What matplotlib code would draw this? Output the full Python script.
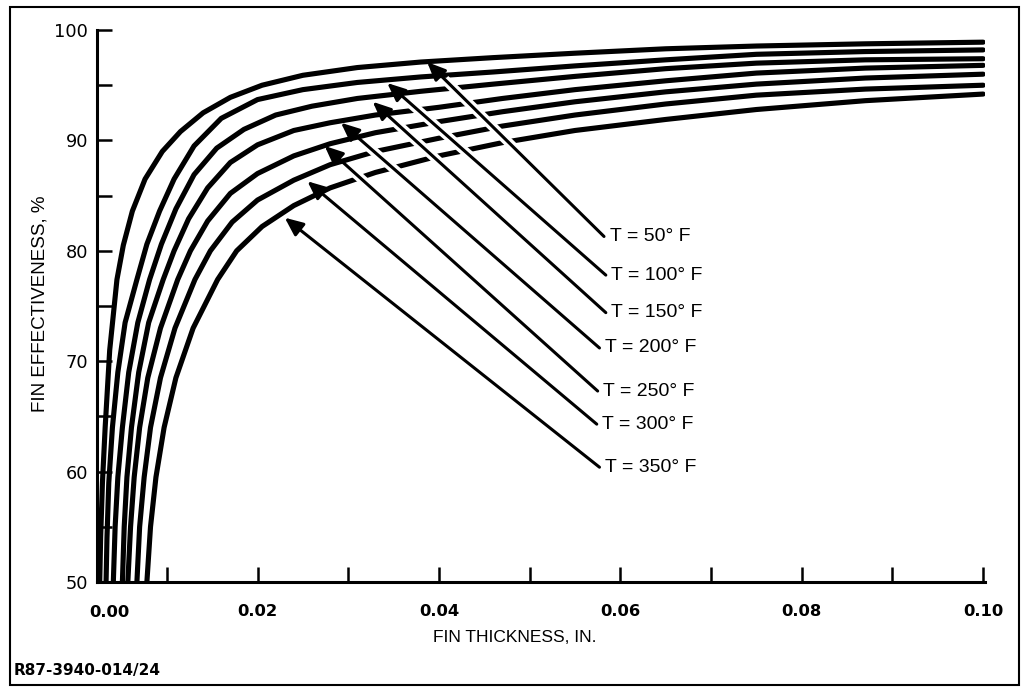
import matplotlib
matplotlib.use("Agg")
import matplotlib.pyplot as plt
from matplotlib.patches import Rectangle

# ---- data ----
temps = [50, 100, 150, 200, 250, 300, 350]

# fin thickness (in.) / fin effectiveness (%) for every curve
x_50 = [0.0026, 0.0027, 0.0029, 0.0032, 0.0037, 0.0045, 0.0052, 0.0062, 0.0076, 0.0095, 0.0115,
        0.0140, 0.0170, 0.0205, 0.025, 0.031, 0.038, 0.046, 0.055, 0.065, 0.075, 0.087, 0.100]
y_50 = [50.0, 54.0, 59.0, 64.0, 71.0, 77.4, 80.5, 83.6, 86.5, 89.0, 90.8,
        92.5, 93.9, 95.0, 95.9, 96.6, 97.1, 97.5, 97.9, 98.3, 98.55, 98.75, 98.9]

x_100 = [0.0033, 0.0034, 0.0036, 0.0040, 0.0046, 0.0054, 0.0067, 0.0078, 0.0092, 0.0108, 0.0130,
         0.0160, 0.0200, 0.025, 0.031, 0.038, 0.046, 0.055, 0.065, 0.075, 0.087, 0.100]
y_100 = [50.0, 54.0, 59.0, 64.0, 69.0, 73.5, 77.4, 80.6, 83.6, 86.5, 89.5,
         92.0, 93.7, 94.6, 95.25, 95.75, 96.2, 96.75, 97.3, 97.8, 98.05, 98.2]

x_150 = [0.0041, 0.0043, 0.0046, 0.0051, 0.0058, 0.0068, 0.0081, 0.0094, 0.0110, 0.0130, 0.0155,
         0.0185, 0.022, 0.026, 0.031, 0.038, 0.046, 0.055, 0.065, 0.075, 0.087, 0.100]
y_150 = [50.0, 55.0, 59.5, 64.0, 69.0, 73.5, 77.4, 80.6, 83.8, 86.9, 89.3,
         91.0, 92.3, 93.1, 93.8, 94.45, 95.1, 95.8, 96.5, 97.0, 97.3, 97.4]

x_200 = [0.0051, 0.0053, 0.0056, 0.0061, 0.0069, 0.0080, 0.0096, 0.0108, 0.0124, 0.0145, 0.0170,
         0.0200, 0.024, 0.028, 0.033, 0.040, 0.047, 0.055, 0.065, 0.075, 0.087, 0.100]
y_200 = [50.0, 55.0, 59.5, 64.0, 69.0, 73.5, 77.4, 80.0, 82.9, 85.7, 88.0,
         89.6, 90.9, 91.6, 92.3, 93.0, 93.8, 94.6, 95.4, 96.1, 96.55, 96.8]

x_250 = [0.0057, 0.0060, 0.0064, 0.0070, 0.0079, 0.0093, 0.0112, 0.0126, 0.0145, 0.0170, 0.0200,
         0.024, 0.028, 0.033, 0.040, 0.047, 0.055, 0.065, 0.075, 0.087, 0.100]
y_250 = [50.0, 55.0, 59.5, 64.0, 68.5, 73.0, 77.4, 80.0, 82.7, 85.2, 87.0,
         88.6, 89.7, 90.7, 91.7, 92.6, 93.5, 94.4, 95.1, 95.65, 96.0]

x_300 = [0.0067, 0.0070, 0.0075, 0.0082, 0.0093, 0.0109, 0.0131, 0.0148, 0.0172, 0.0200, 0.024,
         0.028, 0.033, 0.040, 0.047, 0.055, 0.065, 0.075, 0.087, 0.100]
y_300 = [50.0, 55.0, 59.5, 64.0, 68.5, 73.0, 77.4, 80.0, 82.6, 84.6, 86.4,
         87.8, 89.0, 90.2, 91.3, 92.3, 93.3, 94.1, 94.65, 95.0]

x_350 = [0.0078, 0.0082, 0.0088, 0.0097, 0.0110, 0.0129, 0.0156, 0.0177, 0.0205, 0.024, 0.028,
         0.033, 0.040, 0.047, 0.055, 0.065, 0.075, 0.087, 0.100]
y_350 = [50.0, 55.0, 59.5, 64.0, 68.5, 73.0, 77.4, 80.0, 82.2, 84.1, 85.7,
         87.1, 88.6, 89.8, 90.9, 91.9, 92.8, 93.6, 94.2]

curves_x = [x_50, x_100, x_150, x_200, x_250, x_300, x_350]
curves_y = [y_50, y_100, y_150, y_200, y_250, y_300, y_350]

# callout arrows: tip on the curve, tail at the label
tip_x = [0.0387, 0.0343, 0.0327, 0.0292, 0.0274, 0.0255, 0.0230]
tip_y = [97.1, 95.2, 93.5, 91.6, 89.5, 86.3, 83.0]
tail_x = [0.0582, 0.0584, 0.0584, 0.0577, 0.0575, 0.0574, 0.0577]
tail_y = [81.3, 77.8, 74.4, 71.2, 67.3, 64.3, 60.4]

x_major = [0.02, 0.04, 0.06, 0.08, 0.10]
x_minor = [0.01, 0.03, 0.05, 0.07, 0.09]
y_major = [50, 60, 70, 80, 90, 100]
y_minor = [55, 65, 75, 85, 95]

# ---- drawing ----
fig = plt.figure(figsize=(10.21, 6.87), dpi=100)
ax = fig.add_axes([0.0950, 0.1528, 0.8697, 0.8035])

for xs, ys in zip(curves_x, curves_y):
    ax.plot(xs, ys, color='black', lw=3.7, solid_capstyle='round',
            solid_joinstyle='round', zorder=2)

for t, x0, y0, x1, y1 in zip(temps, tail_x, tail_y, tip_x, tip_y):
    # white gap where the shaft crosses the curves
    hx = x1 + 0.1 * (x0 - x1)
    hy = y1 + 0.1 * (y0 - y1)
    ax.plot([x0, hx], [y0, hy], color='white', lw=7, solid_capstyle='butt', zorder=3)
    ax.annotate('', xy=(x1, y1), xytext=(x0, y0),
                arrowprops=dict(arrowstyle='-|>,head_length=0.5,head_width=0.22',
                                color='black', lw=2.2, mutation_scale=22,
                                shrinkA=0, shrinkB=0), zorder=4)
    ax.annotate(f'T = {t}° F', xy=(x0, y0), xytext=(4, 0), textcoords='offset points',
                ha='left', va='center', fontsize=14, family='Liberation Sans', zorder=5)

ax.set_xlim(0.0023, 0.1002)
ax.set_ylim(50, 100)

for s in ['top', 'right']:
    ax.spines[s].set_visible(False)
for s in ['left', 'bottom']:
    ax.spines[s].set_linewidth(2.2)
    ax.spines[s].set_zorder(6)

ax.set_xticks(x_major)
ax.set_xticks(x_minor, minor=True)
ax.set_xticklabels([f'{v:.2f}' for v in x_major], fontsize=11.8, fontweight='bold')
ax.set_yticks(y_major)
ax.set_yticks(y_minor, minor=True)
ax.set_yticklabels([str(v) for v in y_major], fontsize=12.8)

ax.tick_params(axis='both', which='both', direction='in', length=10.5, width=1.8)
ax.tick_params(axis='x', which='major', pad=16)
ax.tick_params(axis='y', which='major', pad=6.5)

# the 0.00 label sits just right of the y axis
ax.annotate('0.00', xy=(0, 0), xycoords='axes fraction', xytext=(12, -23),
            textcoords='offset pixels', ha='center', va='top',
            fontsize=11.8, fontweight='bold')

fig.text(515 / 1021, 1 - 637 / 687, 'FIN THICKNESS, IN.', ha='center', va='center',
         fontsize=12.5, family='Liberation Sans')
fig.text(40 / 1021, 1 - 304 / 687, 'FIN EFFECTIVENESS, %', ha='center', va='center',
         rotation=90, fontsize=13.5, family='Liberation Sans')
fig.text(14 / 1021, 1 - 670 / 687, 'R87-3940-014/24', ha='left', va='center',
         fontsize=11, fontweight='bold')

fig.add_artist(Rectangle((0.0098, 0.003), 0.988, 0.987, transform=fig.transFigure,
                         fill=False, lw=1.5, color='black'))

fig.savefig('out.png', dpi=100)
